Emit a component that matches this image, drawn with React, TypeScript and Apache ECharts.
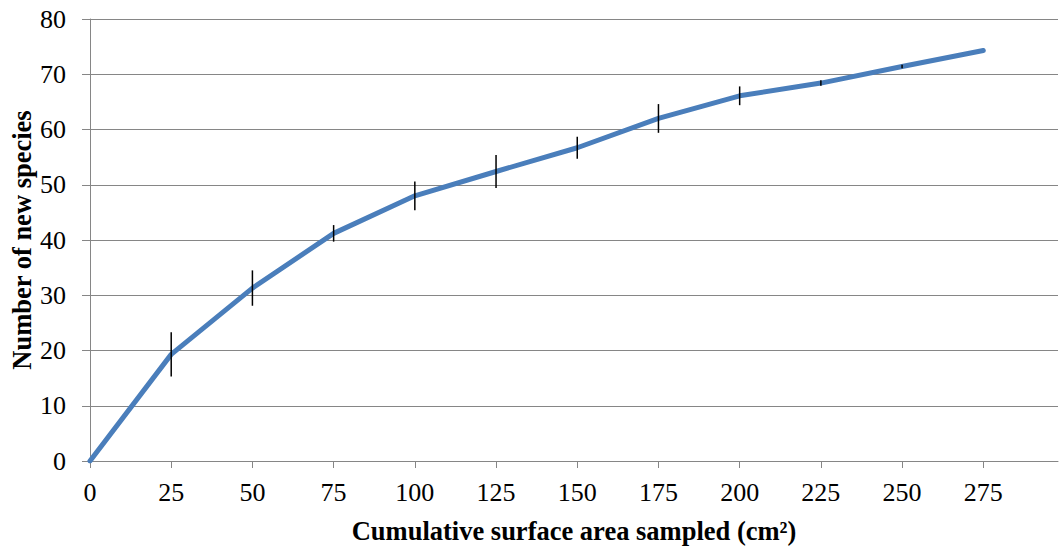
import React, { useEffect, useRef } from "react";
import * as echarts from "echarts";

const areas = [0, 25, 50, 75, 100, 125, 150, 175, 200, 225, 250, 275];
const species = [0, 19.3, 31.3, 41.2, 48.0, 52.4, 56.7, 62.0, 66.1, 68.4, 71.4, 74.3];
const errors = [0, 4.0, 3.2, 1.5, 2.6, 3.0, 2.0, 2.6, 1.7, 0.5, 0.3, 0];
const xTitle = "Cumulative surface area sampled (cm²)";
const yTitle = "Number of new species";

export default function App() {
  const ref = useRef<HTMLDivElement>(null);
  useEffect(() => {
    if (!ref.current) return;
    const chart = echarts.init(ref.current, null, { renderer: "svg" });
    const lineData = areas.map((a, i) => [a, species[i]]);
    const errData = areas.map((a, i) => [a, species[i] - errors[i], species[i] + errors[i]]);
    const font = "Liberation Serif";
    chart.setOption({
      animation: false,
      backgroundColor: "#ffffff",
      textStyle: { fontFamily: font },
      grid: {
        left: 90,
        right: 2,
        top: 19,
        bottom: 87,
        containLabel: false,
        outerBoundsMode: "none",
      },
      xAxis: {
        type: "value",
        min: 0,
        max: 298,
        interval: 25,
        name: xTitle,
        nameLocation: "middle",
        nameGap: 56,
        nameMoveOverlap: false,
        nameTextStyle: { fontFamily: font, fontSize: 26.5, fontWeight: "bold", color: "#000" },
        axisLine: { show: true, lineStyle: { color: "#868686", width: 1 } },
        axisTick: { show: true, inside: false, length: 7, lineStyle: { color: "#868686" } },
        axisLabel: {
          fontFamily: font,
          fontSize: 26,
          color: "#000",
          margin: 18,
          showMaxLabel: false,
        },
        splitLine: { show: false },
      },
      yAxis: {
        type: "value",
        min: 0,
        max: 80,
        interval: 10,
        name: yTitle,
        nameLocation: "middle",
        nameGap: 55,
        nameMoveOverlap: false,
        nameRotate: 90,
        nameTextStyle: { fontFamily: font, fontSize: 26.5, fontWeight: "bold", color: "#000" },
        axisLine: { show: true, lineStyle: { color: "#868686", width: 1 } },
        axisTick: { show: true, inside: false, length: 8, lineStyle: { color: "#868686" } },
        axisLabel: { fontFamily: font, fontSize: 26, color: "#000", margin: 24 },
        splitLine: { show: true, lineStyle: { color: "#868686", width: 1 } },
      },
      series: [
        {
          type: "line",
          data: lineData,
          symbol: "none",
          lineStyle: { color: "#4a7ebb", width: 5, cap: "round", join: "round" },
          z: 2,
        },
        {
          type: "custom",
          data: errData,
          z: 3,
          renderItem: (params: any, api: any) => {
            const x = api.value(0);
            const lo = api.coord([x, api.value(1)]);
            const hi = api.coord([x, api.value(2)]);
            return {
              type: "line",
              shape: { x1: lo[0], y1: lo[1], x2: hi[0], y2: hi[1] },
              style: { stroke: "#000", lineWidth: 1.5 },
            };
          },
        },
      ],
    });
    return () => chart.dispose();
  }, []);
  return <div ref={ref} style={{ width: 1060, height: 548, position: "absolute", left: 0, top: 0 }} />;
}
